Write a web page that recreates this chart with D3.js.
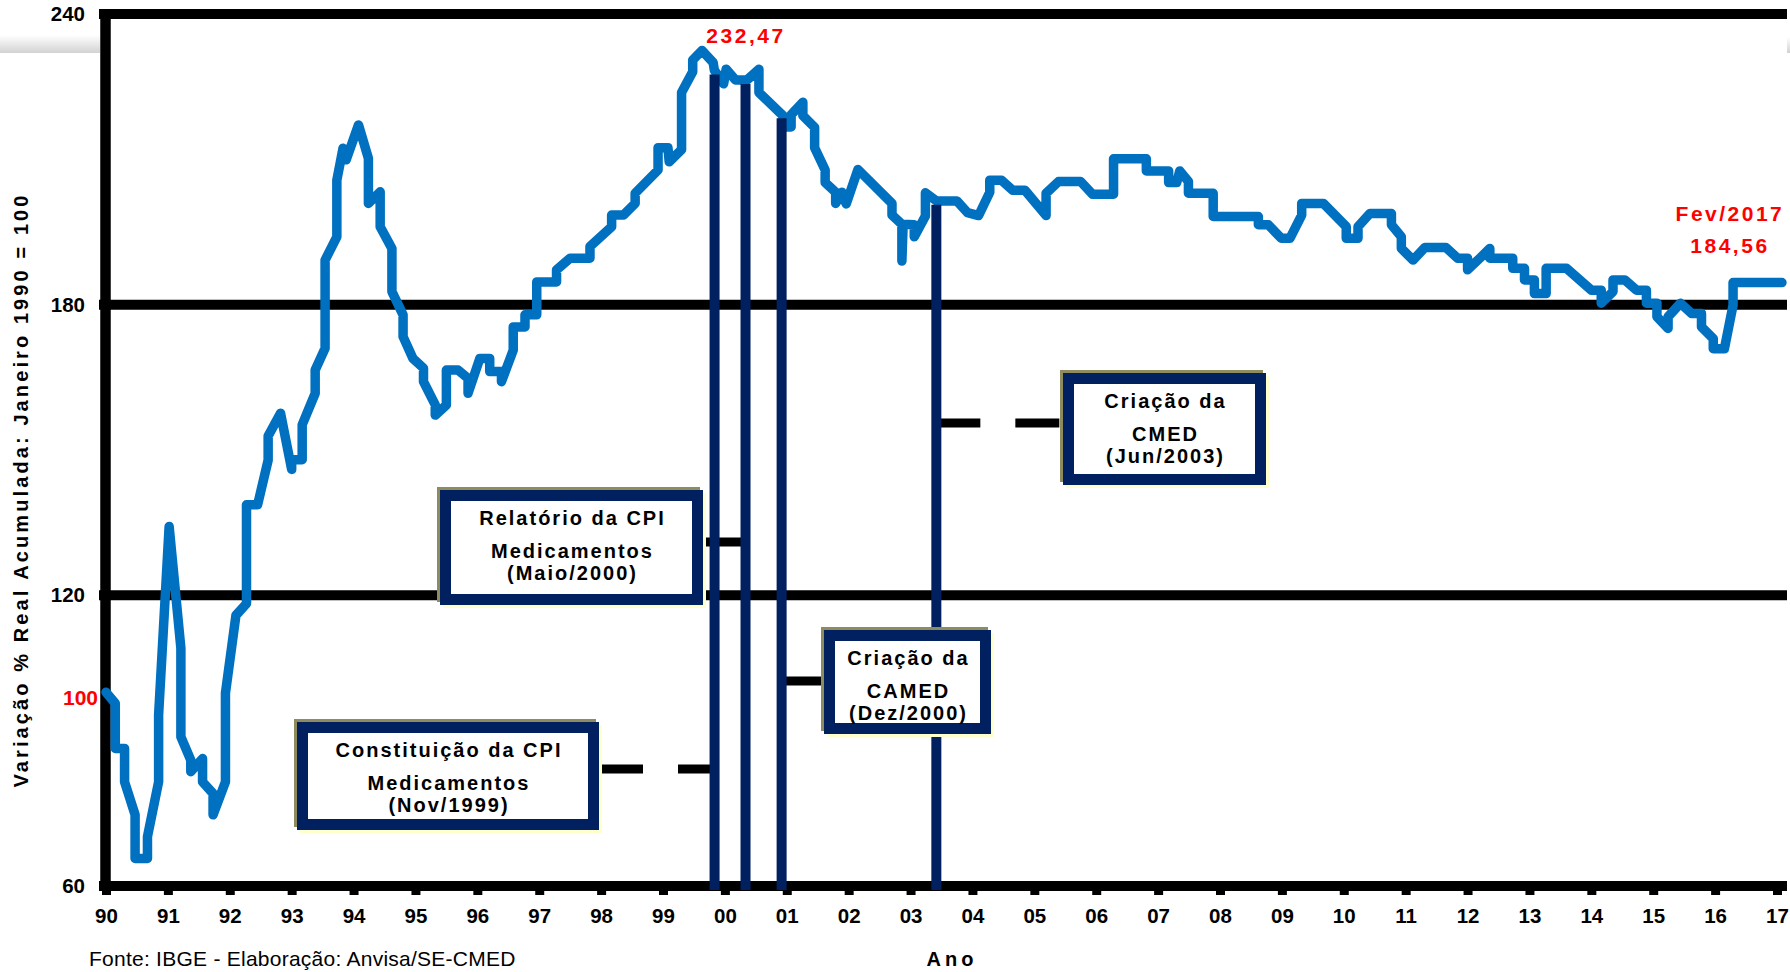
<!DOCTYPE html>
<html>
<head>
<meta charset="utf-8">
<script src="https://cdn.jsdelivr.net/npm/d3@7"></script>
<style>
  html, body { margin: 0; padding: 0; background: #fff; overflow: hidden; }
  svg { display: block; }
  text { font-family: "Liberation Sans", Arial, Helvetica, sans-serif; }
</style>
</head>
<body>
<svg id="chart" width="1790" height="972"></svg>
<script>
// Real accumulated variation of drug prices, Jan 1990 = 100.
// Vertices of the series: decimal year and index value.
const dates = [
  1990.00, 1990.15, 1990.15, 1990.30, 1990.30, 1990.47, 1990.47, 1990.67, 1990.67, 1990.85,
  1990.85, 1991.02, 1991.21, 1991.21, 1991.37, 1991.37, 1991.56, 1991.56, 1991.73, 1991.73,
  1991.93, 1991.93, 1992.10, 1992.27, 1992.27, 1992.45, 1992.62, 1992.62, 1992.82, 1993.00,
  1993.00, 1993.17, 1993.17, 1993.38, 1993.38, 1993.54, 1993.54, 1993.73, 1993.73, 1993.83,
  1993.88, 1994.08, 1994.24, 1994.24, 1994.43, 1994.43, 1994.62, 1994.62, 1994.80, 1994.80,
  1994.96, 1995.13, 1995.13, 1995.32, 1995.32, 1995.50, 1995.50, 1995.69, 1995.85, 1995.85,
  1996.04, 1996.20, 1996.20, 1996.39, 1996.39, 1996.58, 1996.58, 1996.77, 1996.77, 1996.96,
  1996.96, 1997.28, 1997.28, 1997.50, 1997.82, 1997.82, 1998.17, 1998.17, 1998.36, 1998.55,
  1998.55, 1998.92, 1998.92, 1999.08, 1999.10, 1999.30, 1999.30, 1999.48, 1999.48, 1999.63,
  1999.81, 1999.83, 1999.98, 2000.02, 2000.17, 2000.36, 2000.55, 2000.55, 2000.94, 2000.94,
  2001.07, 2001.07, 2001.26, 2001.26, 2001.45, 2001.45, 2001.62, 2001.62, 2001.79, 2001.79,
  2001.89, 2001.96, 2002.15, 2002.70, 2002.70, 2002.86, 2002.86, 2002.88, 2003.06, 2003.06,
  2003.24, 2003.24, 2003.42, 2003.75, 2003.92, 2004.10, 2004.28, 2004.28, 2004.47, 2004.65,
  2004.85, 2005.19, 2005.19, 2005.39, 2005.75, 2005.94, 2006.28, 2006.28, 2006.81, 2006.81,
  2007.17, 2007.17, 2007.30, 2007.35, 2007.49, 2007.49, 2007.89, 2007.89, 2008.62, 2008.62,
  2008.78, 2008.99, 2009.13, 2009.32, 2009.32, 2009.67, 2010.04, 2010.04, 2010.23, 2010.23,
  2010.42, 2010.77, 2010.77, 2010.93, 2010.93, 2011.12, 2011.31, 2011.65, 2011.84, 2012.00,
  2012.00, 2012.20, 2012.36, 2012.36, 2012.73, 2012.73, 2012.92, 2012.92, 2013.08, 2013.08,
  2013.27, 2013.27, 2013.60, 2014.00, 2014.16, 2014.16, 2014.35, 2014.35, 2014.54, 2014.73,
  2014.89, 2014.89, 2015.06, 2015.06, 2015.24, 2015.24, 2015.44, 2015.62, 2015.78, 2015.78,
  2015.97, 2015.97, 2016.15, 2016.29, 2016.29, 2017.08
];
const values = [
  100.0,  97.7,  88.4,  88.4,  81.5,  74.7,  65.7,  65.7,  70.2,  81.5,
   95.3, 134.2, 109.1,  90.8,  86.0,  83.6,  86.3,  81.5,  79.1,  74.7,
   81.5,  99.8, 115.9, 118.3, 138.7, 138.7, 147.9, 152.9, 157.6, 146.0,
  148.0, 148.0, 155.2, 161.7, 166.5, 171.0, 189.2, 194.0, 205.7, 212.3,
  209.9, 217.1, 210.2, 200.9, 203.3, 196.1, 191.6, 182.7, 177.9, 173.4,
  168.9, 166.9, 164.1, 159.3, 157.2, 159.3, 166.5, 166.5, 164.8, 161.7,
  168.9, 168.9, 166.2, 166.2, 164.1, 170.6, 175.4, 175.4, 177.9, 177.9,
  184.7, 184.7, 187.2, 189.6, 189.6, 192.0, 196.1, 198.5, 198.5, 200.9,
  203.0, 207.8, 212.4, 212.4, 209.5, 212.0, 223.8, 228.1, 230.5, 232.47,
  230.0, 228.4, 225.6, 228.6, 226.4, 226.4, 228.6, 223.8, 219.0, 216.7,
  216.7, 219.2, 221.8, 219.0, 216.6, 212.4, 207.8, 205.2, 203.2, 200.9,
  203.2, 200.8, 207.9, 200.9, 198.5, 196.6, 189.0, 196.6, 196.5, 194.0,
  198.3, 203.1, 201.4, 201.4, 199.0, 198.4, 203.2, 205.7, 205.7, 203.6,
  203.6, 198.4, 203.0, 205.4, 205.4, 202.8, 202.8, 210.1, 210.1, 207.6,
  207.6, 205.2, 205.2, 207.6, 205.4, 203.0, 203.0, 198.2, 198.2, 196.5,
  196.5, 193.7, 193.7, 198.5, 200.9, 200.9, 196.1, 193.7, 193.7, 196.1,
  198.8, 198.8, 196.5, 194.0, 191.6, 189.2, 191.8, 191.8, 189.6, 189.6,
  187.2, 189.6, 191.6, 189.6, 189.6, 187.5, 187.5, 185.1, 185.1, 182.3,
  182.3, 187.5, 187.5, 183.0, 183.0, 180.3, 182.7, 185.1, 185.1, 183.0,
  183.0, 180.3, 180.3, 177.5, 175.1, 177.5, 180.3, 178.2, 178.2, 175.4,
  173.0, 170.9, 170.9, 179.9, 184.56, 184.56
];

// Axis ticks and labels
const yTickValues = [60, 120, 180, 240];
const yTickLabels = ["60", "120", "180", "240"];
const baseValue = 100;
const baseLabel = "100";
const xTickYears = [1990, 1991, 1992, 1993, 1994, 1995, 1996, 1997, 1998, 1999, 2000, 2001, 2002, 2003,
                    2004, 2005, 2006, 2007, 2008, 2009, 2010, 2011, 2012, 2013, 2014, 2015, 2016, 2017];
const xTickLabels = ["90", "91", "92", "93", "94", "95", "96", "97", "98", "99", "00", "01", "02", "03",
                     "04", "05", "06", "07", "08", "09", "10", "11", "12", "13", "14", "15", "16", "17"];

// Regulatory milestones (decimal year of the month) and their captions
const eventDates = [1999 + 10 / 12, 2000 + 4 / 12, 2000 + 11 / 12, 2003 + 5 / 12];
const eventCaptions = [
  ["Constituição da CPI", "Medicamentos", "(Nov/1999)"],
  ["Relatório da CPI", "Medicamentos", "(Maio/2000)"],
  ["Criação da", "CAMED", "(Dez/2000)"],
  ["Criação da", "CMED", "(Jun/2003)"]
];

// Highlighted values
const peakValue = 232.47;
const peakLabel = "232,47";
const lastLabelDate = "Fev/2017";
const lastLabelValue = "184,56";

const yTitle = "Variação % Real Acumulada: Janeiro 1990 = 100";
const xTitle = "Ano";
const sourceNote = "Fonte: IBGE - Elaboração: Anvisa/SE-CMED";

// ---------------------------------------------------------------- layout
const BLUE = "#0070C0", NAVY = "#002060", RED = "#FF0000";
const FONT = '"Liberation Sans", Arial, Helvetica, sans-serif';

const x = d3.scaleLinear().domain([1990, 2017]).range([106, 1777]);
const y = d3.scaleLinear().domain([60, 240]).range([886, 14]);

const gridLeft = 99, gridRight = 1787;

// caption boxes: outer bounds and how each connects to its milestone line
const boxes = [
  { x0: 297, y0: 722, x1: 599, y1: 830, linkY: 769, side: "right", dashed: true },
  { x0: 440, y0: 490, x1: 703, y1: 605, linkY: 542, side: "right", dashed: false },
  { x0: 824, y0: 630, x1: 991, y1: 734, linkY: 681, side: "left",  dashed: false },
  { x0: 1063, y0: 373, x1: 1266, y1: 485, linkY: 423, side: "left", dashed: true }
];

const svg = d3.select("#chart");

// soft grey header band at the top corners
const defs = svg.append("defs");
const grad = defs.append("linearGradient").attr("id", "band").attr("x1", 0).attr("y1", 0).attr("x2", 0).attr("y2", 1);
grad.append("stop").attr("offset", "0%").attr("stop-color", "#ffffff");
grad.append("stop").attr("offset", "100%").attr("stop-color", "#d2d2d2");
svg.append("rect").attr("x", 0).attr("y", 35).attr("width", 100).attr("height", 18).attr("fill", "url(#band)");
svg.append("rect").attr("x", 1787).attr("y", 37).attr("width", 3).attr("height", 16).attr("fill", "url(#band)");

// horizontal grid lines (the 60 line is the x axis)
svg.append("g").selectAll("line").data(yTickValues).join("line")
  .attr("x1", gridLeft).attr("x2", gridRight)
  .attr("y1", d => y(d)).attr("y2", d => y(d))
  .attr("stroke", "#000").attr("stroke-width", 10);

// left axis bar
svg.append("line")
  .attr("x1", 105.5).attr("x2", 105.5)
  .attr("y1", y(240) - 5).attr("y2", y(60) + 5)
  .attr("stroke", "#000").attr("stroke-width", 10.5);

// x axis ticks and year labels
const xAxis = d3.axisBottom(x)
  .tickValues(xTickYears)
  .tickFormat((d, i) => xTickLabels[i])
  .tickSize(4).tickSizeOuter(0).tickPadding(13);
const gx = svg.append("g").attr("transform", `translate(0,${y(60) + 5})`).call(xAxis);
gx.select(".domain").remove();
gx.selectAll(".tick line").attr("stroke", "#000").attr("stroke-width", 9);
gx.selectAll(".tick text")
  .attr("fill", "#000").attr("font-family", FONT)
  .attr("font-size", 20.5).attr("font-weight", "bold");

// y axis labels
const yAxis = d3.axisLeft(y)
  .tickValues(yTickValues)
  .tickFormat((d, i) => yTickLabels[i])
  .tickSize(0).tickPadding(20);
const gy = svg.append("g").attr("transform", "translate(105,0)").call(yAxis);
gy.select(".domain").remove();
gy.selectAll(".tick text")
  .attr("fill", "#000").attr("font-family", FONT)
  .attr("font-size", 20.5).attr("font-weight", "bold");

// base value label
svg.append("text")
  .attr("x", 98).attr("y", y(baseValue) + 5).attr("dy", "0.35em")
  .attr("text-anchor", "end")
  .attr("fill", RED).attr("font-size", 21).attr("font-weight", "bold")
  .text(baseLabel);

// price index line
const series = d3.zip(dates, values);
const line = d3.line().x(d => x(d[0])).y(d => y(d[1]));
svg.append("path")
  .datum(series)
  .attr("d", line)
  .attr("fill", "none")
  .attr("stroke", BLUE).attr("stroke-width", 9.5)
  .attr("stroke-linejoin", "round").attr("stroke-linecap", "round");

// value of the series at a given date (last vertex wins on vertical steps)
function valueAt(t) {
  const i = d3.bisectRight(dates, t);
  if (i <= 0) return values[0];
  if (i >= dates.length) return values[values.length - 1];
  const t0 = dates[i - 1], t1 = dates[i];
  const f = t1 === t0 ? 1 : (t - t0) / (t1 - t0);
  return values[i - 1] + f * (values[i] - values[i - 1]);
}

// connectors from caption boxes to milestone lines
boxes.forEach((b, i) => {
  const ex = x(eventDates[i]);
  const xa = b.side === "right" ? b.x1 : ex;
  const xb = b.side === "right" ? ex : b.x0;
  svg.append("line")
    .attr("x1", xa).attr("x2", xb)
    .attr("y1", b.linkY).attr("y2", b.linkY)
    .attr("stroke", "#000").attr("stroke-width", 9)
    .attr("stroke-dasharray", b.dashed ? "44 35" : null);
});

// milestone lines, from the curve down to the axis
svg.append("g").selectAll("line").data(eventDates).join("line")
  .attr("x1", d => x(d)).attr("x2", d => x(d))
  .attr("y1", d => y(valueAt(d)) + 4)
  .attr("y2", y(60) + 4)
  .attr("stroke", NAVY).attr("stroke-width", 10);

// caption boxes
const lineOffsets = [28, 61, 83];
boxes.forEach((b, i) => {
  const g = svg.append("g");
  const w = b.x1 - b.x0, h = b.y1 - b.y0;
  g.append("rect").attr("x", b.x0 + 3).attr("y", b.y0 + 3).attr("width", w).attr("height", h).attr("fill", "#FFFFCC");
  g.append("rect").attr("x", b.x0 - 3).attr("y", b.y0 - 3).attr("width", w).attr("height", h).attr("fill", "#8E8C5E");
  g.append("rect")
    .attr("x", b.x0 + 5.5).attr("y", b.y0 + 5.5)
    .attr("width", w - 11).attr("height", h - 11)
    .attr("fill", "#fff").attr("stroke", NAVY).attr("stroke-width", 11);
  const cx = (b.x0 + b.x1) / 2 + 1;
  eventCaptions[i].forEach((s, j) => {
    g.append("text")
      .attr("x", cx).attr("y", b.y0 + lineOffsets[j]).attr("dy", "0.36em")
      .attr("text-anchor", "middle")
      .attr("font-size", 20).attr("font-weight", "bold")
      .attr("letter-spacing", 2).attr("fill", "#000")
      .text(s);
  });
});

// peak label
const peakIdx = values.indexOf(peakValue);
svg.append("text")
  .attr("x", x(dates[peakIdx]) + 44).attr("y", y(peakValue) - 7)
  .attr("text-anchor", "middle")
  .attr("font-size", 21).attr("font-weight", "bold").attr("letter-spacing", 2.5)
  .attr("fill", RED).text(peakLabel);

// last observation label
const lastX = x(dates[dates.length - 1]);
const lastY = y(values[values.length - 1]);
svg.append("text")
  .attr("x", lastX - 52).attr("y", lastY - 62)
  .attr("text-anchor", "middle")
  .attr("font-size", 21).attr("font-weight", "bold").attr("letter-spacing", 2.5)
  .attr("fill", RED).text(lastLabelDate);
svg.append("text")
  .attr("x", lastX - 52).attr("y", lastY - 30)
  .attr("text-anchor", "middle")
  .attr("font-size", 21).attr("font-weight", "bold").attr("letter-spacing", 2.5)
  .attr("fill", RED).text(lastLabelValue);

// axis titles
svg.append("text")
  .attr("transform", "translate(28,490) rotate(-90)")
  .attr("text-anchor", "middle")
  .attr("font-size", 20).attr("font-weight", "bold").attr("letter-spacing", 3.1)
  .attr("fill", "#000").text(yTitle);

svg.append("text")
  .attr("x", 952).attr("y", 966)
  .attr("text-anchor", "middle")
  .attr("font-size", 20).attr("font-weight", "bold").attr("letter-spacing", 4)
  .attr("fill", "#000").text(xTitle);

// source note
svg.append("text")
  .attr("x", 89).attr("y", 966)
  .attr("font-size", 21).attr("letter-spacing", 0.25).attr("fill", "#000")
  .text(sourceNote);
</script>
</body>
</html>
